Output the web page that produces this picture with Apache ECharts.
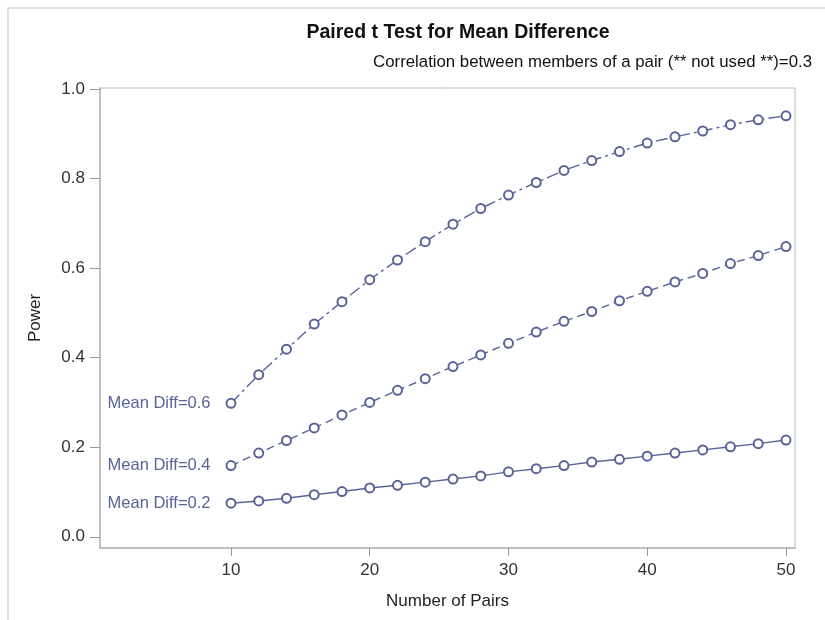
<!DOCTYPE html>
<html>
<head>
<meta charset="utf-8">
<script src="https://cdn.jsdelivr.net/npm/echarts@6/dist/echarts.min.js"></script>
<style>html,body{margin:0;padding:0;background:#fff}#c{width:825px;height:620px}</style>
</head>
<body>
<div id="c"></div>
<script>
const pairs = [10,12,14,16,18,20,22,24,26,28,30,32,34,36,38,40,42,44,46,48,50];
const power02 = [0.075,0.080,0.086,0.094,0.101,0.109,0.115,0.122,0.129,0.136,0.145,0.152,0.159,0.167,0.173,0.180,0.187,0.194,0.201,0.208,0.216];
const power04 = [0.159,0.187,0.215,0.243,0.272,0.300,0.327,0.353,0.380,0.406,0.432,0.457,0.481,0.503,0.527,0.548,0.569,0.588,0.610,0.628,0.648];
const power06 = [0.298,0.362,0.419,0.475,0.525,0.574,0.618,0.659,0.698,0.733,0.763,0.791,0.818,0.840,0.860,0.879,0.893,0.906,0.920,0.931,0.940];
const seriesNames = ['Mean Diff=0.2','Mean Diff=0.4','Mean Diff=0.6'];
const xTicks = [10,20,30,40,50];
const yTicks = [0,0.2,0.4,0.6,0.8,1.0];

const C = '#5a6398';
const font = 'Liberation Sans, Arial, sans-serif';
function mk(name, vals, dash) {
  return {
    type: 'line', name: name,
    data: vals.map((v,i) => {
      const d = {value: [pairs[i], v]};
      if (i === 0) d.label = {show: true, position: 'left', distance: 15, formatter: name,
        color: '#5a6398', fontSize: 16.5, fontFamily: font};
      return d;
    }),
    symbol: 'emptyCircle', symbolSize: 9,
    lineStyle: {color: C, width: 1.4, type: dash},
    itemStyle: {color: C, borderColor: C, borderWidth: 1.3},
    label: {show: false},
    emphasis: {disabled: true},
    animation: false
  };
}
const chart = echarts.init(document.getElementById('c'));
chart.setOption({
  animation: false,
  backgroundColor: '#fff',
  grid: {left: 100, top: 88, right: 30, bottom: 72},
  xAxis: {
    type: 'value', min: 0.56, max: 50.65,
    name: 'Number of Pairs', nameLocation: 'middle', nameGap: 45,
    nameTextStyle: {fontSize: 17, color: '#222', fontFamily: font},
    axisLine: {show: true, onZero: false, lineStyle: {color: '#aaa', width: 1.5}},
    axisTick: {show: true, length: 8, lineStyle: {color: '#999'}, customValues: xTicks},
    axisLabel: {fontSize: 17, color: '#333', margin: 14, fontFamily: font, customValues: xTicks},
    splitLine: {show: false}
  },
  yAxis: {
    type: 'value', min: -0.025, max: 1.002,
    name: 'Power', nameLocation: 'middle', nameGap: 56,
    nameTextStyle: {fontSize: 17, color: '#222', fontFamily: font},
    axisLine: {show: true, onZero: false, lineStyle: {color: '#aaa', width: 1.5}},
    axisTick: {show: true, length: 10, lineStyle: {color: '#999'}, customValues: yTicks},
    axisLabel: {fontSize: 17, color: '#333', margin: 15, fontFamily: font, customValues: yTicks,
      formatter: v => v.toFixed(1)},
    splitLine: {show: false}
  },
  graphic: [
    {type: 'polyline', shape: {points: [[8, 625], [8, 8], [830, 8]]}, style: {stroke: '#d8d8d8', fill: null, lineWidth: 1.5}, silent: true},
    {type: 'line', shape: {x1: 100, y1: 88, x2: 795, y2: 88}, style: {stroke: '#bbb', lineWidth: 1}, silent: true},
    {type: 'line', shape: {x1: 795, y1: 88, x2: 795, y2: 548}, style: {stroke: '#bbb', lineWidth: 1}, silent: true},
    {type: 'text', x: 458, y: 33, style: {text: 'Paired t Test for Mean Difference', font: 'bold 19.5px ' + font, fill: '#111', align: 'center', verticalAlign: 'middle'}, silent: true},
    {type: 'text', x: 812, y: 62, style: {text: 'Correlation between members of a pair (** not used **)=0.3', font: '16.8px ' + font, fill: '#111', align: 'right', verticalAlign: 'middle'}, silent: true}
  ],
  series: [
    mk(seriesNames[0], power02, 'solid'),
    mk(seriesNames[1], power04, [8, 5]),
    mk(seriesNames[2], power06, [12, 4, 3, 4])
  ]
});
</script>
</body>
</html>
